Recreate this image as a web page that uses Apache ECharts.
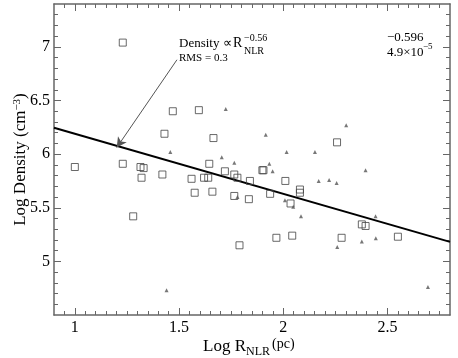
<!DOCTYPE html>
<html><head><meta charset="utf-8">
<script src="https://cdn.jsdelivr.net/npm/echarts@6/dist/echarts.min.js"></script>
<style>html,body{margin:0;padding:0;background:#fff}#c{width:458px;height:358px}</style>
</head><body><div id="c"></div>
<script>
// ---- data ----
const squareX = [1.00,1.23,1.23,1.28,1.315,1.33,1.32,1.42,1.43,1.47,1.56,1.575,1.595,1.62,1.64,1.645,1.66,1.665,1.72,1.765,1.78,1.765,1.84,1.835,1.905,1.90,1.937,1.79,2.01,2.035,2.08,2.08,1.967,2.043,2.258,2.28,2.377,2.395,2.55];
const squareY = [5.88,7.04,5.91,5.42,5.88,5.87,5.78,5.81,6.19,6.40,5.77,5.64,6.41,5.78,5.78,5.91,5.65,6.15,5.84,5.81,5.78,5.61,5.75,5.58,5.85,5.85,5.63,5.15,5.75,5.54,5.67,5.64,5.22,5.24,6.11,5.22,5.345,5.33,5.23];
const triX = [1.458,1.44,1.724,1.705,1.765,1.78,1.916,1.933,1.949,2.016,2.152,2.302,2.395,2.17,2.22,2.256,2.008,2.048,2.085,2.443,2.259,2.377,2.444,2.694];
const triY = [6.02,4.73,6.42,5.97,5.92,5.60,6.18,5.91,5.84,6.02,6.02,6.27,5.85,5.75,5.76,5.73,5.57,5.51,5.42,5.42,5.135,5.185,5.215,4.76];
const fitX = [0.9, 2.8];
const fitY = [6.246, 5.182];
const arrowFrom = [1.49, 6.88];
const arrowTo = [1.201, 6.061];
const xTickLabels = [1, 1.5, 2, 2.5];
const yTickLabels = [5, 5.5, 6, 6.5, 7];
const xRange = [0.9, 2.8];
const yRange = [4.5, 7.4];

// minor tick positions
const xMinor = []; for (let i = 19; i <= 55; i++) xMinor.push(+(i * 0.05).toFixed(2));
const yMinor = []; for (let i = 46; i <= 73; i++) yMinor.push(+(i * 0.1).toFixed(1));

const frame = '#666';
const font = '"Liberation Serif","Times New Roman",serif';
function xAx(pos, ticks, len, main) {
  return {
    type: 'value', position: pos, min: xRange[0], max: xRange[1], gridIndex: 0,
    axisLine: { show: main, lineStyle: { color: frame, width: 1.5 } },
    axisTick: { show: true, inside: true, length: len, customValues: ticks, lineStyle: { color: frame, width: 1 } },
    axisLabel: { show: main && pos === 'bottom', customValues: xTickLabels, formatter: v => String(v), color: '#000', fontFamily: font, fontSize: 16, margin: 5 },
    splitLine: { show: false }
  };
}
function yAx(pos, ticks, len, main) {
  return {
    type: 'value', position: pos, min: yRange[0], max: yRange[1], gridIndex: 0,
    axisLine: { show: main, lineStyle: { color: frame, width: 1.5 } },
    axisTick: { show: true, inside: true, length: len, customValues: ticks, lineStyle: { color: frame, width: 1 } },
    axisLabel: { show: main && pos === 'left', customValues: yTickLabels, formatter: v => String(v), color: '#000', fontFamily: font, fontSize: 16, margin: 4 },
    splitLine: { show: false },
    name: main && pos === 'left' ? '{b|Log Density (cm}{sup|−3}{b|)}' : '',
    nameLocation: 'middle', nameGap: 25, nameRotate: 90, nameMoveOverlap: false,
    nameTextStyle: { color: '#000', fontFamily: font, fontSize: 17,
      rich: {
        b: { fontFamily: font, fontSize: 17, lineHeight: 17, verticalAlign: 'bottom', padding: [6, 0, 0, 0], color: '#000' },
        sup: { fontFamily: font, fontSize: 11, lineHeight: 11, verticalAlign: 'top', color: '#000' } } }
  };
}

const chart = echarts.init(document.getElementById('c'), null, { renderer: 'canvas' });
chart.setOption({
  animation: false,
  backgroundColor: '#fff',
  grid: { left: 54, right: 8, top: 4, bottom: 43, containLabel: false, outerBoundsMode: 'none' },
  xAxis: [
    xAx('bottom', xTickLabels, 7, true), xAx('bottom', xMinor, 4, false),
    xAx('top', xTickLabels, 7, true), xAx('top', xMinor, 4, false)
  ],
  yAxis: [
    yAx('left', yTickLabels, 7, true), yAx('left', yMinor, 4, false),
    yAx('right', yTickLabels, 7, true), yAx('right', yMinor, 4, false)
  ],
  series: [
    { type: 'line', data: fitX.map((x, i) => [x, fitY[i]]), showSymbol: false, symbol: 'none',
      lineStyle: { color: '#000', width: 2 }, z: 3,
      markLine: { silent: true, symbol: ['none', 'arrow'], symbolSize: [8, 10],
        lineStyle: { color: '#555', width: 1, type: 'solid' }, label: { show: false },
        data: [[{ coord: arrowFrom }, { coord: arrowTo }]] } },
    { type: 'scatter', data: squareX.map((x, i) => [x, squareY[i]]), symbol: 'rect', symbolSize: 7,
      itemStyle: { color: 'rgba(0,0,0,0)', borderColor: '#444', borderWidth: 1 }, z: 4 },
    { type: 'scatter', data: triX.map((x, i) => [x, triY[i]]), symbol: 'triangle', symbolSize: 4,
      itemStyle: { color: '#555' }, z: 4 }
  ],
  graphic: [
    // x-axis title
    { type: 'text', left: 203, top: 338, style: { text: 'Log R', font: '17px ' + font, fill: '#000' } },
    { type: 'text', left: 246, top: 346, style: { text: 'NLR', font: '12px ' + font, fill: '#000' } },
    { type: 'text', left: 272, top: 337, style: { text: '(pc)', font: '14px ' + font, fill: '#000' } },
    // annotations
    { type: 'text', left: 179, top: 37, style: { text: 'Density ∝', font: '13px ' + font, fill: '#000' } },
    { type: 'text', left: 233, top: 36, style: { text: 'R', font: '14px ' + font, fill: '#000' } },
    { type: 'text', left: 244, top: 33, style: { text: '−0.56', font: '10px ' + font, fill: '#000' } },
    { type: 'text', left: 244, top: 46, style: { text: 'NLR', font: '10px ' + font, fill: '#000' } },
    { type: 'text', left: 179, top: 53, style: { text: 'RMS = 0.3', font: '11px ' + font, fill: '#000' } },
    { type: 'text', left: 387, top: 31, style: { text: '−0.596', font: '13px ' + font, fill: '#000' } },
    { type: 'text', left: 387, top: 46, style: { text: '4.9×10', font: '13px ' + font, fill: '#000' } },
    { type: 'text', left: 423, top: 42, style: { text: '−5', font: '9px ' + font, fill: '#000' } }
  ]
});
</script></body></html>
